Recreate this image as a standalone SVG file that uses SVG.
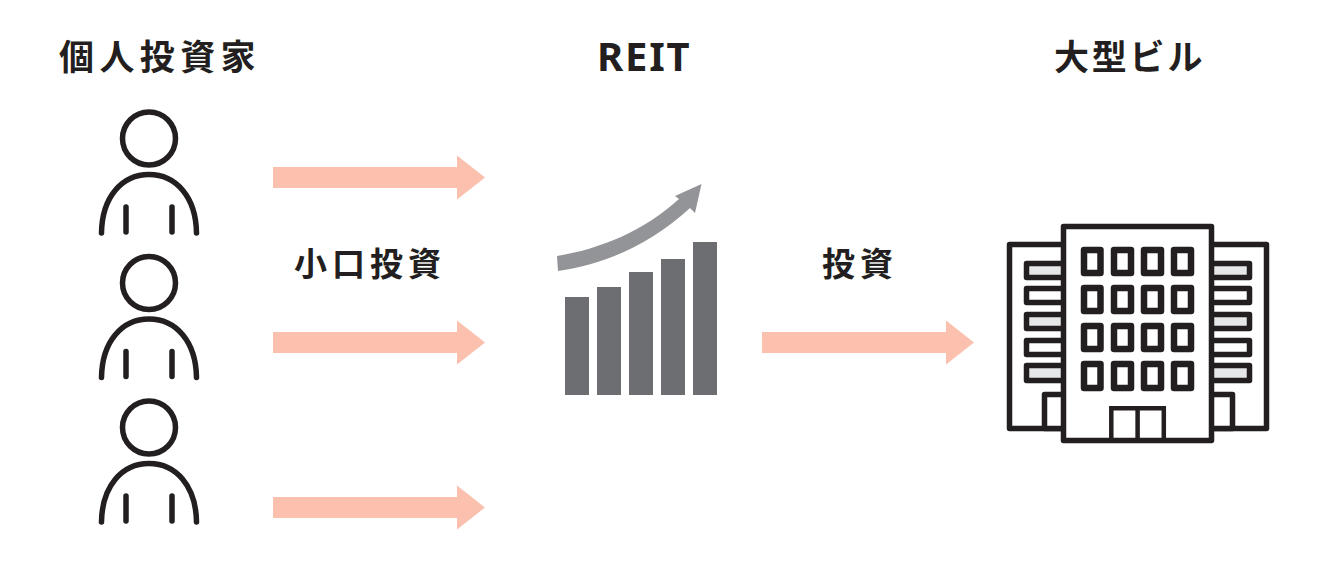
<svg xmlns="http://www.w3.org/2000/svg" width="1342" height="573" viewBox="0 0 1342 573">
<style>
.t{font-family:"Noto Sans CJK JP","Noto Sans",sans-serif;font-weight:700;fill:#231f20}
.ink{fill:none;stroke:#231f20;stroke-width:5.500;stroke-linecap:round}
.b{fill:#fff;stroke:#231f20;stroke-width:5.500;stroke-linejoin:round}
.s{stroke:#231f20;stroke-width:5.500;stroke-linejoin:round}
.win{stroke:#231f20;stroke-width:6.500;stroke-linejoin:round;fill:#fff}
.w{fill:#fff}.g{fill:#e6e7e8}
.bar{fill:#6d6e71}
.arrow{fill:#fbc0ae}
</style>
<defs>
<g id="person">
<circle cx="149" cy="138.500" r="26.500" class="ink"/>
<path d="M101.500 233C102 197 122 174.500 149 174.500C176 174.500 196 197 196.500 233" class="ink"/>
<path d="M126 207V232M172 207V232" class="ink"/>
</g>
<path id="arr" d="M0 -10.500H184V-22L212 0L184 22V10.500H0Z"/>
</defs>
<rect width="1342" height="573" fill="#fff"/>
<g id="title-investors"><text class="t" x="59" y="70" font-size="35" letter-spacing="5.400">個人投資家</text></g>
<g id="title-reit"><text class="t" x="597" y="71" font-size="40" style="font-family:'Noto Sans',sans-serif" letter-spacing="1.800">REIT</text></g>
<g id="title-building"><text class="t" x="1054" y="70" font-size="35" letter-spacing="2.800">大型ビル</text></g>
<g id="label-small"><text class="t" x="294" y="276" font-size="33" letter-spacing="5">小口投資</text></g>
<g id="label-invest"><text class="t" x="822" y="276" font-size="33" letter-spacing="5">投資</text></g>
<g id="investor-1"><use href="#person"/></g>
<g id="investor-2"><use href="#person" y="144.500"/></g>
<g id="investor-3"><use href="#person" y="289"/></g>
<g id="connectors" class="arrow">
<use href="#arr" x="273" y="177.500"/>
<use href="#arr" x="273" y="342.500"/>
<use href="#arr" x="273" y="507.500"/>
<use href="#arr" x="762" y="342.500"/>
</g>
<g id="reit-chart">
<rect class="bar" x="565" y="297" width="24" height="98"/>
<rect class="bar" x="597" y="287" width="24" height="108"/>
<rect class="bar" x="629" y="272" width="24" height="123"/>
<rect class="bar" x="661" y="259" width="24" height="136"/>
<rect class="bar" x="693" y="242" width="24" height="153"/>
<path fill="#929497" d="M557 256C600 249 644 231 679 199L675 196L701.500 184L695 213L690 208C651 244 606 264 558 271Z"/>
</g>
<g id="building">
<rect class="b" x="1009.500" y="244.500" width="257" height="184"/>
<g class="s">
<rect class="g" x="1026.500" y="263.500" width="40" height="14"/>
<rect class="w" x="1026.500" y="288.500" width="40" height="14"/>
<rect class="g" x="1026.500" y="314.500" width="40" height="14"/>
<rect class="w" x="1026.500" y="340.500" width="40" height="14"/>
<rect class="g" x="1026.500" y="365.500" width="40" height="15"/>
<rect class="g" x="1209" y="263.500" width="40.500" height="14"/>
<rect class="w" x="1209" y="288.500" width="40.500" height="14"/>
<rect class="g" x="1209" y="314.500" width="40.500" height="14"/>
<rect class="w" x="1209" y="340.500" width="40.500" height="14"/>
<rect class="g" x="1209" y="365.500" width="40.500" height="15"/>
<rect class="w" x="1044.500" y="394.500" width="24" height="34"/>
<rect class="w" x="1208" y="394.500" width="24.500" height="34"/>
</g>
<rect class="b" x="1063.500" y="226.500" width="148" height="214"/>
<g class="win">
<rect x="1084" y="250" width="16.500" height="23"/><rect x="1114" y="250" width="17" height="23"/><rect x="1144" y="250" width="17" height="23"/><rect x="1174" y="250" width="17" height="23"/>
<rect x="1084" y="288" width="16.500" height="23"/><rect x="1114" y="288" width="17" height="23"/><rect x="1144" y="288" width="17" height="23"/><rect x="1174" y="288" width="17" height="23"/>
<rect x="1084" y="326" width="16.500" height="23"/><rect x="1114" y="326" width="17" height="23"/><rect x="1144" y="326" width="17" height="23"/><rect x="1174" y="326" width="17" height="23"/>
<rect x="1084" y="364" width="16.500" height="24"/><rect x="1114" y="364" width="17" height="24"/><rect x="1144" y="364" width="17" height="24"/><rect x="1174" y="364" width="17" height="24"/>
</g>
<path fill="none" stroke="#231f20" stroke-width="4.500" d="M1111.300 440V408.200H1163.800V440M1137.600 408.200V440"/>
</g>
</svg>
